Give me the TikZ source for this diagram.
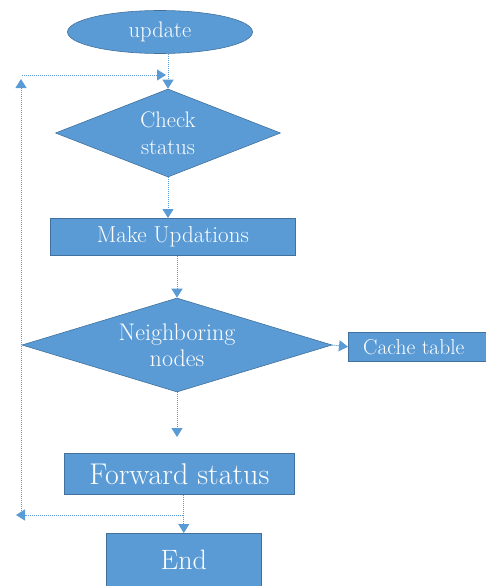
\documentclass[tikz,border=0pt]{standalone}
\usetikzlibrary{shapes.geometric,arrows.meta,calc}
\definecolor{boxfill}{HTML}{5B9BD5}
\definecolor{boxline}{HTML}{41719C}
\definecolor{arrcol}{HTML}{5B9BD5}
\begin{document}
\begin{tikzpicture}[x=1pt,y=-1pt,
  shapebox/.style={fill=boxfill,draw=boxline,line width=0.6pt,inner sep=0pt},
  rectbox/.style={shapebox,rectangle,anchor=north west},
  dmd/.style={shapebox,diamond},
  txt/.style={text=white,align=center,inner sep=0pt},
  conn/.style={draw=arrcol,line width=1pt,densely dotted,-{Triangle[length=9pt,width=11pt]}},
  plain/.style={draw=arrcol,line width=1pt,densely dotted}]
\useasboundingbox (0,0) rectangle (485,586);
% shapes
\node[shapebox,ellipse,minimum width=185pt,minimum height=43pt] (upd) at (160,32) {};
\node[txt,font=\fontsize{22.5}{26}\selectfont] at (upd.center) {update};
\node[dmd,minimum width=225pt,minimum height=88pt] (chk) at (168,133) {};
\node[txt,font=\fontsize{22.5}{27}\selectfont] at (chk.center) {Check\\status};
\node[rectbox,minimum width=245pt,minimum height=37pt] (mk) at (50,218) {};
\node[txt,font=\fontsize{23}{26}\selectfont] at (mk.center) {Make Updations};
\node[dmd,minimum width=310pt,minimum height=94pt] (nb) at (177,345) {};
\node[txt,font=\fontsize{24}{26}\selectfont] at (nb.center) {Neighboring\\nodes};
\node[rectbox,minimum width=145pt,minimum height=29pt] (cache) at (348,332) {};
\node[txt,font=\fontsize{21.5}{24}\selectfont] at ($(cache.center)+(-7,0)$) {Cache table};
\node[rectbox,minimum width=230pt,minimum height=41pt] (fw) at (64,453) {};
\node[txt,font=\fontsize{30}{34}\selectfont] at (fw.center) {Forward status};
\node[rectbox,minimum width=155pt,minimum height=60pt] (end) at (106,533) {};
\node[txt,font=\fontsize{28}{32}\selectfont] at ($(end.north)+(0,27)$) {End};
% coordinates
\coordinate (d) at (177,437);
\coordinate (j) at (183,515);
\coordinate (lw) at (16,515);
\coordinate (lb) at (21,515);
\coordinate (lt) at (21,79);
\coordinate (ht) at (22,75);
\coordinate (hr) at (166,75);
% connectors
\draw[conn] (upd.south -| chk.north) -- (chk.north);
\draw[conn] (chk.south) -- (chk.south |- mk.north);
\draw[conn] (nb.north |- mk.south) -- (nb.north);
\draw[conn] (nb.east) -- (cache.west);
\draw[conn] (nb.south) -- (d);
\draw[conn] (end.north |- fw.south) -- (end.north);
\draw[conn] (j) -- (lw);
\draw[conn] (lb) -- (lt);
\draw[conn] (ht) -- (hr);
\end{tikzpicture}
\end{document}
